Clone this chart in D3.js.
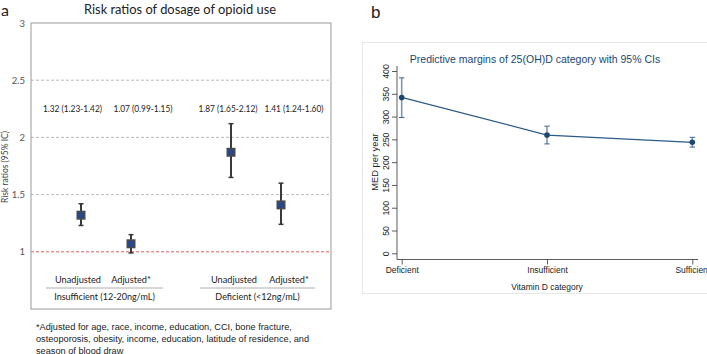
<!DOCTYPE html>
<html><head><meta charset="utf-8">
<script src="https://cdn.jsdelivr.net/npm/d3@7"></script>
<style>body{margin:0;background:#fff}svg{display:block}</style>
</head><body>
<script>
// ---- Panel a data ----
const aPositions = [1, 2, 4, 5];
const aEstimate = [1.32, 1.07, 1.87, 1.41];
const aLower = [1.23, 0.99, 1.65, 1.24];
const aUpper = [1.42, 1.15, 2.12, 1.60];
const aSubLabels = ["Unadjusted", "Adjusted*", "Unadjusted", "Adjusted*"];
const aGroups = ["Insufficient  (12-20ng/mL)", "Deficient (<12ng/mL)"];
const aYTicks = [1, 1.5, 2, 2.5, 3];
const aTitle = "Risk ratios of dosage of opioid use";
const aFootnote = ["*Adjusted for age, race, income, education, CCI, bone fracture,",
  "osteoporosis, obesity, income, education, latitude of residence, and",
  "season of blood draw"];
// ---- Panel b data ----
const bCategories = ["Deficient", "Insufficient", "Sufficient"];
const bMargin = [342, 259.5, 243.5];
const bLower = [298, 240, 233];
const bUpper = [385, 279, 254.5];
const bYTicks = [0, 50, 100, 150, 200, 250, 300, 350, 400];
const bTitle = "Predictive margins of 25(OH)D category with 95% CIs";

const W = 707, H = 354;
const svg = d3.select("body").append("svg").attr("width", W).attr("height", H);

// ================= Panel a =================
const fa = "Lato, 'Open Sans', sans-serif";
const ax = d3.scaleLinear().domain([0, 6]).range([31, 331]);
const ay = d3.scaleLinear().domain([0.5, 3]).range([309, 23]);
const ga = svg.append("g");

ga.append("text").attr("x", 1).attr("y", 16).attr("font-family", fa).attr("font-size", 16).attr("fill", "#222").text("a");
ga.append("text").attr("x", 180).attr("y", 14).attr("text-anchor", "middle").attr("font-family", fa)
  .attr("font-size", 13.5).attr("fill", "#222").attr("textLength", 192).attr("lengthAdjust", "spacingAndGlyphs").text(aTitle);

// grid lines
ga.selectAll("line.grid").data(aYTicks.filter(t => t > 1 && t < 3)).join("line")
  .attr("x1", ax(0)).attr("x2", ax(6)).attr("y1", d => ay(d)).attr("y2", d => ay(d))
  .attr("stroke", "#a8a8a8").attr("stroke-width", 0.8).attr("stroke-dasharray", "3,2");
ga.append("line").attr("x1", ax(0)).attr("x2", ax(6)).attr("y1", ay(1)).attr("y2", ay(1))
  .attr("stroke", "#e24a4a").attr("stroke-width", 0.9).attr("stroke-dasharray", "3,2");

// box
ga.append("rect").attr("x", ax(0)).attr("y", ay(3)).attr("width", ax(6) - ax(0)).attr("height", ay(0.5) - ay(3))
  .attr("fill", "none").attr("stroke", "#9a9a9a").attr("stroke-width", 1);

// y axis ticks
const ayAxis = d3.axisLeft(ay).tickValues(aYTicks).tickSize(0).tickPadding(6).tickFormat(d3.format("~g"));
const gay = ga.append("g").attr("transform", `translate(${ax(0)},0)`).call(ayAxis);
gay.select(".domain").remove();
gay.selectAll("text").attr("font-family", fa).attr("font-size", 9.5).attr("fill", "#555");

ga.append("text").attr("transform", `translate(8,${167}) rotate(-90)`).attr("text-anchor", "middle")
  .attr("font-family", fa).attr("font-size", 8.5).attr("fill", "#444").text("Risk ratios (95% IC)");

// error bars
const aData = aPositions.map((p, i) => ({p, e: aEstimate[i], lo: aLower[i], hi: aUpper[i], sub: aSubLabels[i]}));
const eb = ga.selectAll("g.eb").data(aData).join("g");
eb.append("line").attr("x1", d => ax(d.p)).attr("x2", d => ax(d.p)).attr("y1", d => ay(d.lo)).attr("y2", d => ay(d.hi))
  .attr("stroke", "#3a3a3a").attr("stroke-width", 2);
eb.append("line").attr("x1", d => ax(d.p) - 2.5).attr("x2", d => ax(d.p) + 2.5).attr("y1", d => ay(d.lo)).attr("y2", d => ay(d.lo))
  .attr("stroke", "#3a3a3a").attr("stroke-width", 1.5);
eb.append("line").attr("x1", d => ax(d.p) - 2.5).attr("x2", d => ax(d.p) + 2.5).attr("y1", d => ay(d.hi)).attr("y2", d => ay(d.hi))
  .attr("stroke", "#3a3a3a").attr("stroke-width", 1.5);
eb.append("rect").attr("x", d => ax(d.p) - 3.75).attr("y", d => ay(d.e) - 3.75).attr("width", 7.5).attr("height", 7.5)
  .attr("fill", "#27498a").attr("stroke", "#4a4a4a").attr("stroke-width", 1.5);

// value labels
const labelDx = [-8.5, 12, -3, 13];
ga.selectAll("text.val").data(aData).join("text")
  .attr("x", (d, i) => ax(d.p) + labelDx[i]).attr("y", 112).attr("text-anchor", "middle")
  .attr("font-family", fa).attr("font-size", 9.5).attr("fill", "#222")
  .attr("textLength", 59).attr("lengthAdjust", "spacingAndGlyphs")
  .text(d => `${d.e.toFixed(2)} (${d.lo.toFixed(2)}-${d.hi.toFixed(2)})`);

// sub labels
const subDx = [-3, 0, 3, 8];
ga.selectAll("text.sub").data(aData).join("text")
  .attr("x", (d, i) => ax(d.p) + subDx[i]).attr("y", 283).attr("text-anchor", "middle")
  .attr("font-family", fa).attr("font-size", 9.2).attr("fill", "#222").text(d => d.sub);

// group lines and labels
const groupSpan = [[0.3, 2.64], [3.38, 5.68]];
groupSpan.forEach((s, i) => {
  ga.append("line").attr("x1", ax(s[0])).attr("x2", ax(s[1])).attr("y1", 288).attr("y2", 288)
    .attr("stroke", "#999").attr("stroke-width", 0.8);
  ga.append("text").attr("x", (ax(s[0]) + ax(s[1])) / 2).attr("y", 300).attr("text-anchor", "middle")
    .attr("font-family", fa).attr("font-size", 9).attr("fill", "#222").text(aGroups[i]);
});

// footnote
ga.selectAll("text.fn").data(aFootnote).join("text")
  .attr("x", 36).attr("y", (d, i) => 329.5 + i * 12)
  .attr("font-family", "'Liberation Sans', Arial, sans-serif").attr("font-size", 9.2).attr("fill", "#222").text(d => d);

// ================= Panel b =================
const fb = "'Liberation Sans', Arial, sans-serif";
const gb = svg.append("g");
gb.append("text").attr("x", 371).attr("y", 18).attr("font-family", fb).attr("font-size", 17).attr("fill", "#222").text("b");

gb.append("rect").attr("x", 362.5).attr("y", 42.5).attr("width", 360).attr("height", 251)
  .attr("fill", "#fff").attr("stroke", "#e6e9ec").attr("stroke-width", 1);

const bx = d3.scalePoint().domain(bCategories).range([401.7, 692.3]);
const by = d3.scaleLinear().domain([0, 400]).range([253.3, 71]);
const navy = "#1a476f";

gb.append("text").attr("x", 535).attr("y", 63).attr("text-anchor", "middle").attr("font-family", fb)
  .attr("font-size", 10.5).attr("fill", navy).text(bTitle);

// axes
const byAxis = d3.axisLeft(by).tickValues(bYTicks).tickSize(5).tickPadding(3);
const gby = gb.append("g").attr("transform", "translate(397,0)").call(byAxis);
gby.select(".domain").remove();
gby.selectAll(".tick line").attr("stroke", "#333").attr("stroke-width", 0.8);
gby.selectAll(".tick text").attr("font-family", fb).attr("font-size", 8.7).attr("fill", "#222")
  .attr("text-anchor", "middle").attr("x", 0).attr("y", 0).attr("dy", "0.32em")
  .attr("transform", "translate(-11,0) rotate(-90)");
gb.append("line").attr("x1", 397).attr("x2", 397).attr("y1", 66).attr("y2", 259.5).attr("stroke", "#333").attr("stroke-width", 0.8);

const bxAxis = d3.axisBottom(bx).tickSize(5).tickPadding(2);
const gbx = gb.append("g").attr("transform", "translate(0,259.5)").call(bxAxis);
gbx.select(".domain").remove();
gbx.selectAll(".tick line").attr("stroke", "#333").attr("stroke-width", 0.8);
gbx.selectAll(".tick text").attr("font-family", fb).attr("font-size", 8.5).attr("fill", "#222");
gb.append("line").attr("x1", 397).attr("x2", 698).attr("y1", 259.5).attr("y2", 259.5).attr("stroke", "#333").attr("stroke-width", 0.8);

gb.append("text").attr("x", 547).attr("y", 290).attr("text-anchor", "middle").attr("font-family", fb)
  .attr("font-size", 8.5).attr("fill", "#222").text("Vitamin D category");
gb.append("text").attr("transform", "translate(378,162) rotate(-90)").attr("text-anchor", "middle")
  .attr("font-family", fb).attr("font-size", 9.3).attr("fill", "#222").text("MED per year");

const bData = bCategories.map((c, i) => ({c, m: bMargin[i], lo: bLower[i], hi: bUpper[i]}));
// CI caps
const ci = gb.selectAll("g.ci").data(bData).join("g");
ci.append("line").attr("x1", d => bx(d.c)).attr("x2", d => bx(d.c)).attr("y1", d => by(d.lo)).attr("y2", d => by(d.hi))
  .attr("stroke", "#7d97b6").attr("stroke-width", 1.6);
[d => by(d.lo), d => by(d.hi)].forEach(f => {
  ci.append("line").attr("x1", d => bx(d.c) - 2.7).attr("x2", d => bx(d.c) + 2.7).attr("y1", f).attr("y2", f)
    .attr("stroke", "#3d6590").attr("stroke-width", 1);
});
gb.append("path").datum(bData).attr("fill", "none").attr("stroke", "#2b5a87").attr("stroke-width", 1.2)
  .attr("d", d3.line().x(d => bx(d.c)).y(d => by(d.m)));
gb.selectAll("circle.pt").data(bData).join("circle").attr("cx", d => bx(d.c)).attr("cy", d => by(d.m)).attr("r", 2.8)
  .attr("fill", navy);
</script>
</body></html>
